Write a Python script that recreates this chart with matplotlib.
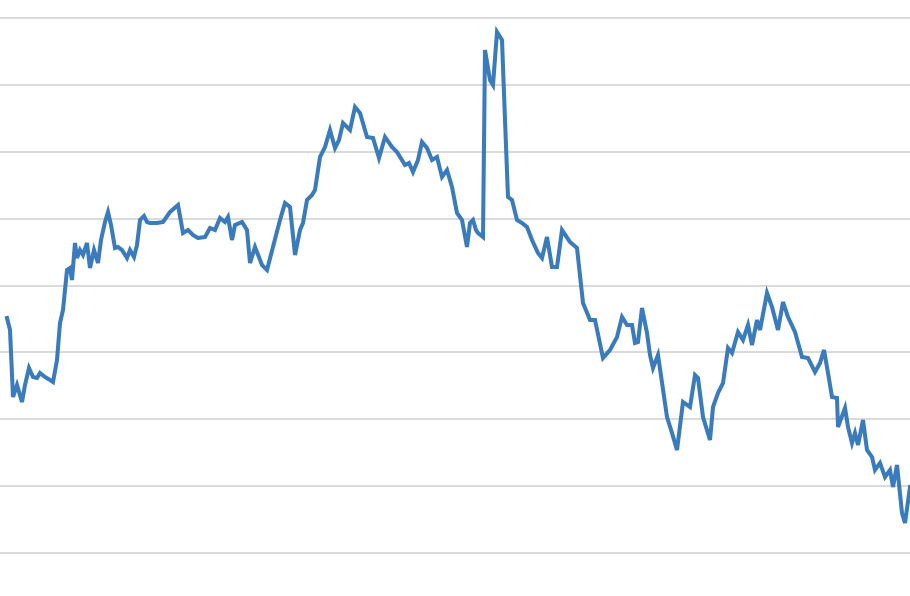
import matplotlib
matplotlib.use("Agg")
import matplotlib.pyplot as plt
import numpy as np

# Horizontal position of each observation (time axis, arbitrary units)
x_pos = [7, 10, 13, 17, 22, 25, 29, 33, 37, 40, 45, 50, 53, 57, 60, 63, 67, 70, 72, 75,
         77, 80, 83, 87, 90, 94, 98, 101, 105, 108, 111, 115, 118, 122, 127, 130, 134, 137, 140, 144,
         147, 150, 157, 163, 170, 178, 183, 188, 193, 198, 205, 210, 215, 220, 225, 228, 232, 235, 242, 247,
         250, 255, 262, 267, 273, 280, 285, 290, 295, 300, 303, 307, 312, 315, 320, 325, 330, 335, 339, 343,
         347, 350, 355, 360, 367, 373, 379, 385, 392, 397, 405, 409, 413, 418, 422, 427, 432, 437, 442, 447,
         452, 457, 462, 467, 470, 473, 476, 478, 483, 485, 490, 493, 497, 502, 505, 508, 512, 517, 522, 527,
         532, 538, 542, 547, 552, 557, 562, 570, 577, 583, 590, 595, 603, 610, 617, 622, 627, 632, 635, 638,
         642, 647, 650, 653, 658, 667, 672, 677, 683, 690, 695, 698, 703, 710, 713, 718, 723, 728, 732, 738,
         743, 748, 752, 757, 760, 767, 772, 778, 783, 788, 795, 802, 808, 815, 820, 824, 828, 832, 837, 838,
         845, 848, 852, 855, 858, 863, 867, 872, 875, 880, 885, 890, 893, 897, 902, 905, 910]

# Series values (arbitrary units; one gridline step = 66.875)
values = [235, 223, 156, 168, 151, 168, 185, 176, 175, 180, 176, 173, 171, 193, 230, 243, 283, 285, 273, 310,
          295, 303, 298, 310, 285, 303, 290, 313, 331, 341, 328, 305, 306, 303, 295, 303, 296, 308, 333, 337,
          331, 330, 330, 331, 341, 348, 320, 323, 318, 315, 316, 325, 323, 335, 331, 336, 313, 328, 331, 323,
          290, 306, 288, 283, 306, 333, 350, 346, 298, 323, 330, 353, 358, 363, 396, 406, 423, 405, 413, 430,
          426, 423, 446, 440, 416, 415, 395, 416, 406, 401, 388, 390, 381, 393, 411, 405, 393, 396, 376, 383,
          366, 340, 333, 306, 330, 333, 323, 320, 316, 503, 473, 468, 521, 513, 433, 356, 353, 333, 330, 326,
          313, 300, 295, 316, 286, 286, 323, 311, 305, 250, 233, 233, 195, 203, 216, 236, 228, 228, 210, 211,
          245, 220, 198, 185, 198, 136, 120, 103, 151, 146, 178, 175, 136, 113, 146, 160, 170, 205, 200, 221,
          213, 228, 208, 233, 223, 260, 246, 223, 251, 236, 221, 196, 195, 181, 190, 203, 180, 156, 155, 126,
          145, 126, 110, 120, 108, 133, 103, 96, 83, 90, 76, 83, 66, 88, 40, 30, 66]

grid_step = 66.875
grid_levels = [i * grid_step for i in range(9)]

fig = plt.figure(figsize=(9.10, 5.96), dpi=100)
ax = fig.add_axes([0, 0, 1, 1])

for g in grid_levels:
    ax.axhline(g, color="#d9d9d9", linewidth=1.4, zorder=1)

ax.plot(x_pos, values, color="#3a7bbd", linewidth=2.9, solid_joinstyle="miter", zorder=3)

ax.set_xlim(0, 910)
ax.set_ylim(-43, 553)
ax.set_xticks([])
ax.set_yticks([])
for s in ax.spines.values():
    s.set_visible(False)

fig.savefig("out.png", dpi=100, facecolor="white")
